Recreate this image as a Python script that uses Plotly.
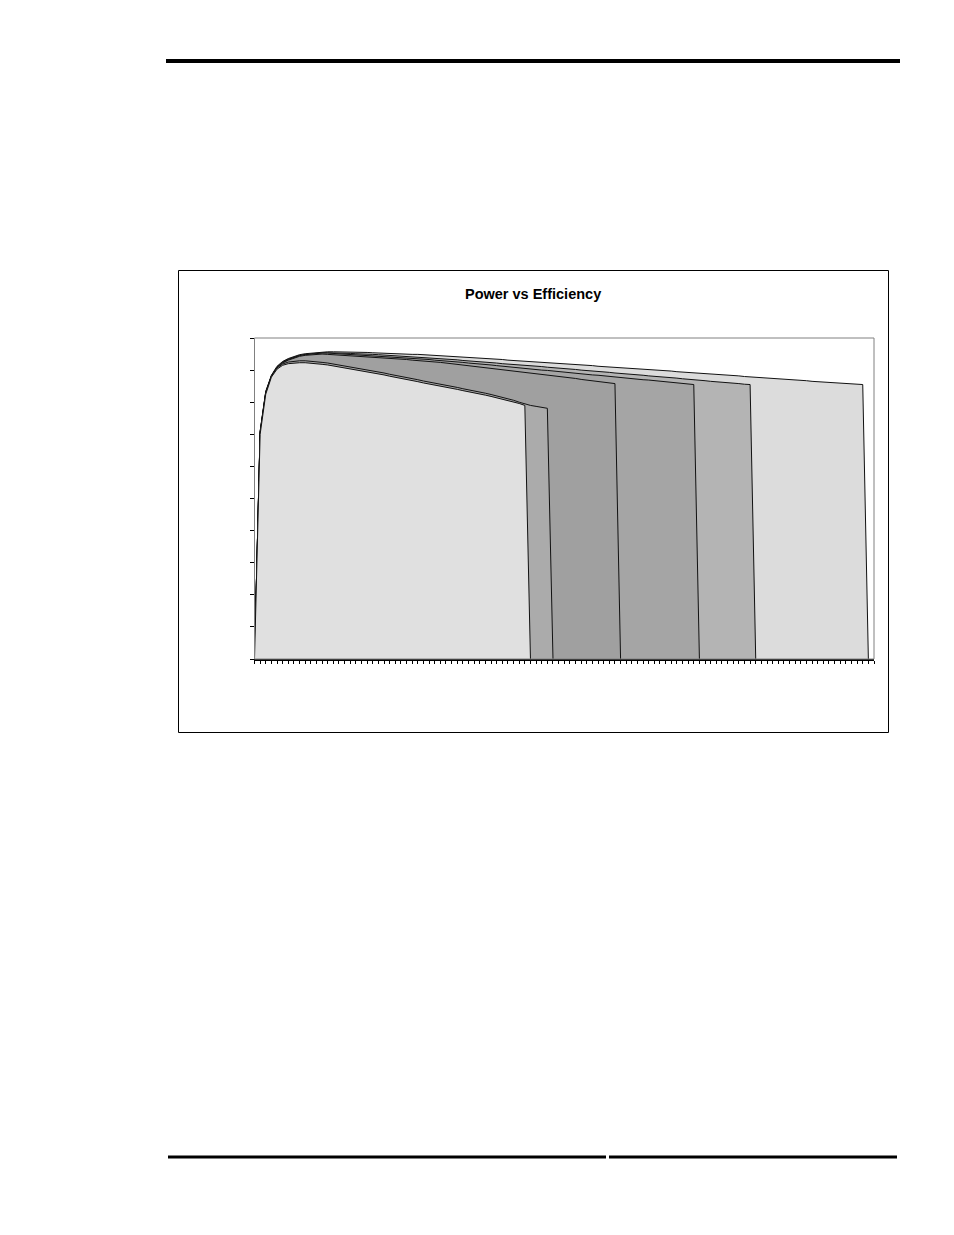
import plotly.graph_objects as go

# efficiency (%) per power step, one list per curve; each drops to 0 after its last point
eff_f = [0, 71.0, 83.4, 88.4, 91.2, 92.7, 93.6, 94.3, 94.8, 95.1,
         95.3, 95.5, 95.6, 95.7, 95.7, 95.7, 95.7, 95.6, 95.6, 95.5,
         95.5, 95.4, 95.3, 95.3, 95.2, 95.1, 95.0, 95.0, 94.9, 94.9,
         94.8, 94.7, 94.7, 94.6, 94.5, 94.3, 94.2, 94.1, 94.0, 93.9,
         93.8, 93.6, 93.5, 93.4, 93.3, 93.1, 93.0, 92.9, 92.8, 92.7,
         92.5, 92.4, 92.3, 92.2, 92.1, 91.9, 91.8, 91.7, 91.6, 91.5,
         91.4, 91.2, 91.1, 91.0, 90.9, 90.8, 90.7, 90.5, 90.4, 90.3,
         90.2, 90.0, 89.9, 89.8, 89.7, 89.5, 89.4, 89.3, 89.2, 89.0,
         88.9, 88.8, 88.7, 88.5, 88.4, 88.3, 88.2, 88.0, 87.9, 87.8,
         87.7, 87.5, 87.4, 87.3, 87.2, 87.0, 86.9, 86.8, 86.7, 86.5,
         86.4, 86.3, 86.2, 86.0, 85.9, 85.8, 85.7, 85.6, 85.5, 0]

eff_e = [0, 70.8, 83.2, 88.2, 91.0, 92.5, 93.4, 94.1, 94.6, 94.9,
         95.1, 95.3, 95.4, 95.4, 95.4, 95.3, 95.3, 95.2, 95.1, 95.1,
         95.0, 94.9, 94.8, 94.7, 94.6, 94.5, 94.4, 94.3, 94.2, 94.1,
         94.0, 93.8, 93.7, 93.6, 93.5, 93.3, 93.2, 93.0, 92.9, 92.7,
         92.6, 92.5, 92.3, 92.2, 92.0, 91.9, 91.8, 91.6, 91.5, 91.3,
         91.2, 91.1, 90.9, 90.8, 90.6, 90.5, 90.3, 90.2, 90.0, 89.9,
         89.7, 89.6, 89.4, 89.3, 89.1, 89.0, 88.8, 88.7, 88.5, 88.4,
         88.2, 88.1, 87.9, 87.8, 87.6, 87.5, 87.3, 87.2, 87.0, 86.8,
         86.7, 86.5, 86.4, 86.2, 86.1, 85.9, 85.8, 85.6, 85.5, 0]

eff_d = [0, 70.7, 83.1, 88.1, 90.9, 92.4, 93.3, 94.0, 94.5, 94.8,
         95.0, 95.2, 95.3, 95.3, 95.2, 95.1, 95.0, 94.9, 94.8, 94.7,
         94.6, 94.5, 94.4, 94.3, 94.1, 94.0, 93.9, 93.8, 93.6, 93.5,
         93.4, 93.3, 93.1, 93.0, 92.8, 92.7, 92.5, 92.4, 92.2, 92.1,
         91.9, 91.7, 91.6, 91.4, 91.2, 91.1, 90.9, 90.7, 90.5, 90.4,
         90.2, 90.0, 89.9, 89.7, 89.5, 89.4, 89.2, 89.0, 88.9, 88.7,
         88.5, 88.4, 88.2, 88.0, 87.9, 87.7, 87.5, 87.4, 87.2, 87.0,
         86.9, 86.7, 86.5, 86.4, 86.2, 86.0, 85.9, 85.7, 85.5, 0]

eff_c = [0, 70.5, 82.9, 87.9, 90.7, 92.2, 93.1, 93.8, 94.3, 94.6,
         94.8, 95.0, 95.0, 94.9, 94.8, 94.7, 94.6, 94.5, 94.4, 94.3,
         94.2, 94.1, 93.9, 93.8, 93.7, 93.6, 93.4, 93.3, 93.1, 93.0,
         92.8, 92.7, 92.5, 92.4, 92.2, 92.0, 91.8, 91.6, 91.4, 91.2,
         91.0, 90.8, 90.6, 90.4, 90.2, 90.0, 89.7, 89.5, 89.3, 89.1,
         88.9, 88.7, 88.5, 88.2, 88.0, 87.8, 87.6, 87.4, 87.1, 86.9,
         86.7, 86.5, 86.2, 86.0, 85.8, 0]

eff_b = [0, 70.3, 82.8, 88.1, 90.7, 91.9, 92.5, 92.8, 92.9, 92.9,
         92.8, 92.6, 92.4, 92.2, 91.9, 91.6, 91.4, 91.1, 90.7, 90.4,
         90.1, 89.8, 89.4, 89.1, 88.7, 88.4, 88.0, 87.7, 87.3, 87.0,
         86.6, 86.3, 86.0, 85.6, 85.3, 84.9, 84.6, 84.2, 83.9, 83.6,
         83.2, 82.8, 82.4, 82.0, 81.6, 81.1, 80.6, 80.0, 79.4, 79.0,
         78.7, 78.4, 78.1, 0]

eff_a = [0, 70.0, 82.5, 87.8, 90.3, 91.5, 92.0, 92.2, 92.3, 92.3,
         92.2, 92.0, 91.8, 91.6, 91.3, 91.0, 90.8, 90.5, 90.1, 89.8,
         89.5, 89.2, 88.8, 88.5, 88.1, 87.8, 87.4, 87.1, 86.7, 86.4,
         86.0, 85.7, 85.4, 85.0, 84.7, 84.3, 84.0, 83.6, 83.3, 83.0,
         82.6, 82.2, 81.8, 81.4, 81.0, 80.6, 80.1, 79.6, 79.0, 0]

# back to front
series = [eff_f, eff_e, eff_d, eff_c, eff_b, eff_a]
fills = ["#DCDCDC", "#B4B4B4", "#A5A5A5", "#A0A0A0", "#ABABAB", "#E0E0E0"]

# page is offset by the default 8px body margin
OFF = 8
W, H = 954 - OFF, 1235 - OFF
FONT = "Liberation Sans, Arial, sans-serif"


def px(x):
    return (x - OFF) / W


def py(y):
    return 1 - (y - OFF) / H


fig = go.Figure()

for vals, color in zip(series, fills):
    fig.add_trace(
        go.Scatter(
            x=list(range(len(vals))),
            y=vals,
            mode="lines",
            fill="tozeroy",
            fillcolor=color,
            line=dict(color="#111111", width=1),
            hoverinfo="skip",
        )
    )

shapes = [
    # page rules
    dict(type="line", xref="paper", yref="paper",
         x0=px(166), x1=px(900), y0=py(61), y1=py(61),
         line=dict(color="black", width=4)),
    dict(type="line", xref="paper", yref="paper",
         x0=px(168), x1=px(606), y0=py(1157), y1=py(1157),
         line=dict(color="black", width=3)),
    dict(type="line", xref="paper", yref="paper",
         x0=px(609), x1=px(897), y0=py(1157), y1=py(1157),
         line=dict(color="black", width=3)),
    # chart frame
    dict(type="rect", xref="paper", yref="paper",
         x0=px(178.5), x1=px(888.5), y0=py(270.5), y1=py(732.5),
         line=dict(color="black", width=1)),
    # plot area outline
    dict(type="rect", xref="paper", yref="paper",
         x0=px(254.5), x1=px(874), y0=py(338), y1=py(659),
         line=dict(color="#808080", width=1)),
]

fig.update_layout(
    width=W,
    height=H,
    autosize=False,
    margin=dict(l=0, r=0, t=0, b=0),
    paper_bgcolor="white",
    plot_bgcolor="white",
    showlegend=False,
    shapes=shapes,
    font=dict(family=FONT, color="black"),
    annotations=[
        dict(
            text="<b>Power vs Efficiency</b>",
            xref="paper", yref="paper",
            x=px(532.5), y=py(294),
            xanchor="center", yanchor="middle",
            showarrow=False,
            font=dict(family=FONT, size=14.5, color="black"),
        )
    ],
)

fig.update_xaxes(
    domain=[px(254.5), px(874)],
    range=[0, 110],
    tick0=0,
    dtick=1,
    ticks="outside",
    ticklen=3,
    tickwidth=1,
    tickcolor="black",
    showticklabels=False,
    showline=True,
    linecolor="black",
    linewidth=2,
    showgrid=False,
    zeroline=False,
)

fig.update_yaxes(
    domain=[py(659), py(338)],
    range=[0, 100],
    tick0=0,
    dtick=10,
    ticks="outside",
    ticklen=4,
    tickwidth=1,
    tickcolor="black",
    showticklabels=False,
    showline=True,
    linecolor="black",
    linewidth=1,
    showgrid=False,
    zeroline=False,
)

fig.write_html("out.html")
